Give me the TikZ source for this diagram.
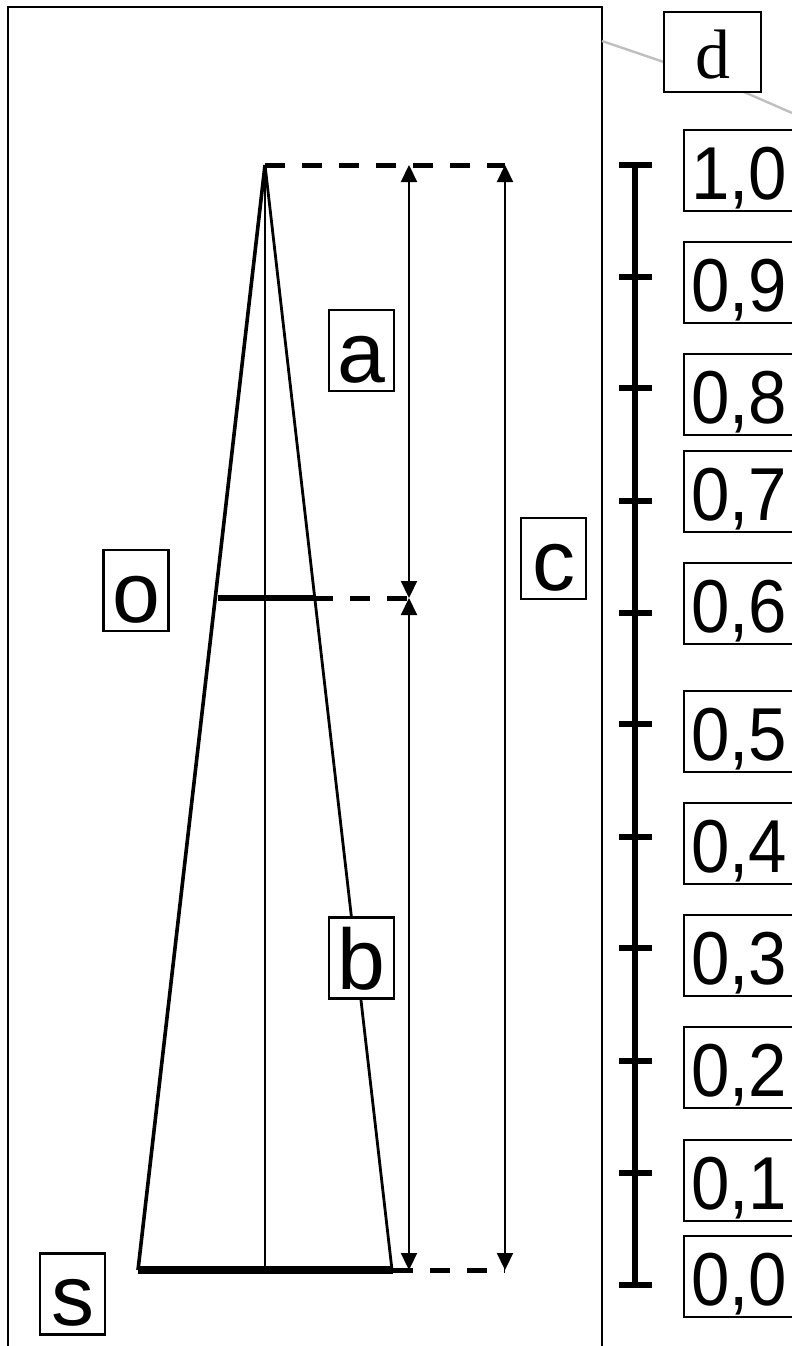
\documentclass[tikz,border=0pt]{standalone}
\usepackage{fontspec}
\setmainfont{Liberation Sans}
\newfontfamily\dserif{Liberation Serif}
\usetikzlibrary{arrows.meta}
\newcommand{\numlab}[1]{\makebox[130pt][l]{\scalebox{0.92}[1]{#1}}}
\begin{document}
\begin{tikzpicture}[x=1pt,y=-1pt,
  lbl/.style={draw,fill=white,line width=2.4pt,inner sep=0pt,text height=72pt,text depth=9pt,
    minimum width=65pt,font=\fontsize{86}{86}\selectfont},
  num/.style={draw,fill=white,line width=2.4pt,inner ysep=0pt,inner xsep=7pt,text height=70pt,
    text depth=11pt,anchor=south west,font=\fontsize{75}{75}\selectfont},
  dimarrow/.style={line width=2.2pt,{Triangle[length=17pt,width=16pt]}-{Triangle[length=17pt,width=16pt]}},
  dsh/.style={line width=5pt,dash pattern=on 20pt off 17pt},
  frameline/.style={line width=2.6pt},
  scaleline/.style={line width=6pt}]
\useasboundingbox (0,0) rectangle (792,1346);
\clip (0,0) rectangle (792,1346);

% frame (open at the bottom)
\coordinate (fbl) at (8,1346);
\coordinate (ftl) at (8,7);
\coordinate (ftr) at (602,7);
\coordinate (fbr) at (602,1346);
\draw[frameline] (fbl) -- (ftl) -- (ftr) -- (fbr);

% gray curve behind d
\coordinate (g0) at (602,41);
\coordinate (g1) at (792,113);
\draw[line width=2.4pt,color=black!25] (g0) .. controls (718,80.4) .. (g1);
\node[draw,fill=white,line width=2.4pt,inner sep=0pt,minimum width=97pt,text height=66pt,text depth=14pt,
  font=\dserif\fontsize{70}{70}\selectfont] (d) at (712.5,52) {d};

% key points
\coordinate (apex) at (265,165);
\coordinate (bl) at (138,1270);
\coordinate (br) at (392,1270);
\coordinate (bc) at (265,1270);
\coordinate (ol) at (218,598);
\coordinate (or) at (313,598);
\coordinate (oa) at (409,598);
\coordinate (ta) at (409,165);
\coordinate (tc) at (505,165);
\coordinate (ba) at (409,1270);
\coordinate (bcc) at (505,1270);
\coordinate (bend) at (393,1270);

% cone
\draw[line width=3.6pt] (apex) -- (bl);
\draw[line width=2.8pt] (apex) -- (br);
\draw[line width=2pt] (apex) -- (bc);
\draw[line width=8pt] (bl) -- (bend);
\draw[line width=6pt] (ol) -- (or);

% dashed extension lines
\draw[dsh] (apex) -- (tc);
\draw[dsh] (or) -- (oa);
\draw[dsh] (bend) -- (bcc);

% dimension arrows
\draw[dimarrow] (ta) -- (oa);
\draw[dimarrow] (oa) -- (ba);
\draw[dimarrow] (tc) -- (bcc);

% letter labels
\node[lbl] (a) at (361.5,350.5) {a};
\node[lbl] (b) at (361.5,958) {b};
\node[lbl] (c) at (553.5,558.5) {c};
\node[lbl] (o) at (136,590.5) {o};
\node[lbl] (s) at (72.5,1294) {s};

% scale
\coordinate (sTop) at (635,165);
\coordinate (sBot) at (635,1285);
\draw[scaleline] (sTop) -- (sBot);
\foreach \yy [count=\i] in {165,277,388,501,613,724,837,948,1061,1173,1285}{
  \coordinate (tl\i) at (619,\yy);
  \coordinate (tr\i) at (652,\yy);
  \draw[scaleline] (tl\i) -- (tr\i);
}

% scale labels
\node[num] (n10) at (683,212) {\numlab{1,0}};
\node[num] (n09) at (683,324) {\numlab{0,9}};
\node[num] (n08) at (683,436) {\numlab{0,8}};
\node[num] (n07) at (683,533) {\numlab{0,7}};
\node[num] (n06) at (683,645) {\numlab{0,6}};
\node[num] (n05) at (683,773) {\numlab{0,5}};
\node[num] (n04) at (683,885) {\numlab{0,4}};
\node[num] (n03) at (683,997) {\numlab{0,3}};
\node[num] (n02) at (683,1109) {\numlab{0,2}};
\node[num] (n01) at (683,1222) {\numlab{0,1}};
\node[num] (n00) at (683,1318) {\numlab{0,0}};
\end{tikzpicture}
\end{document}
